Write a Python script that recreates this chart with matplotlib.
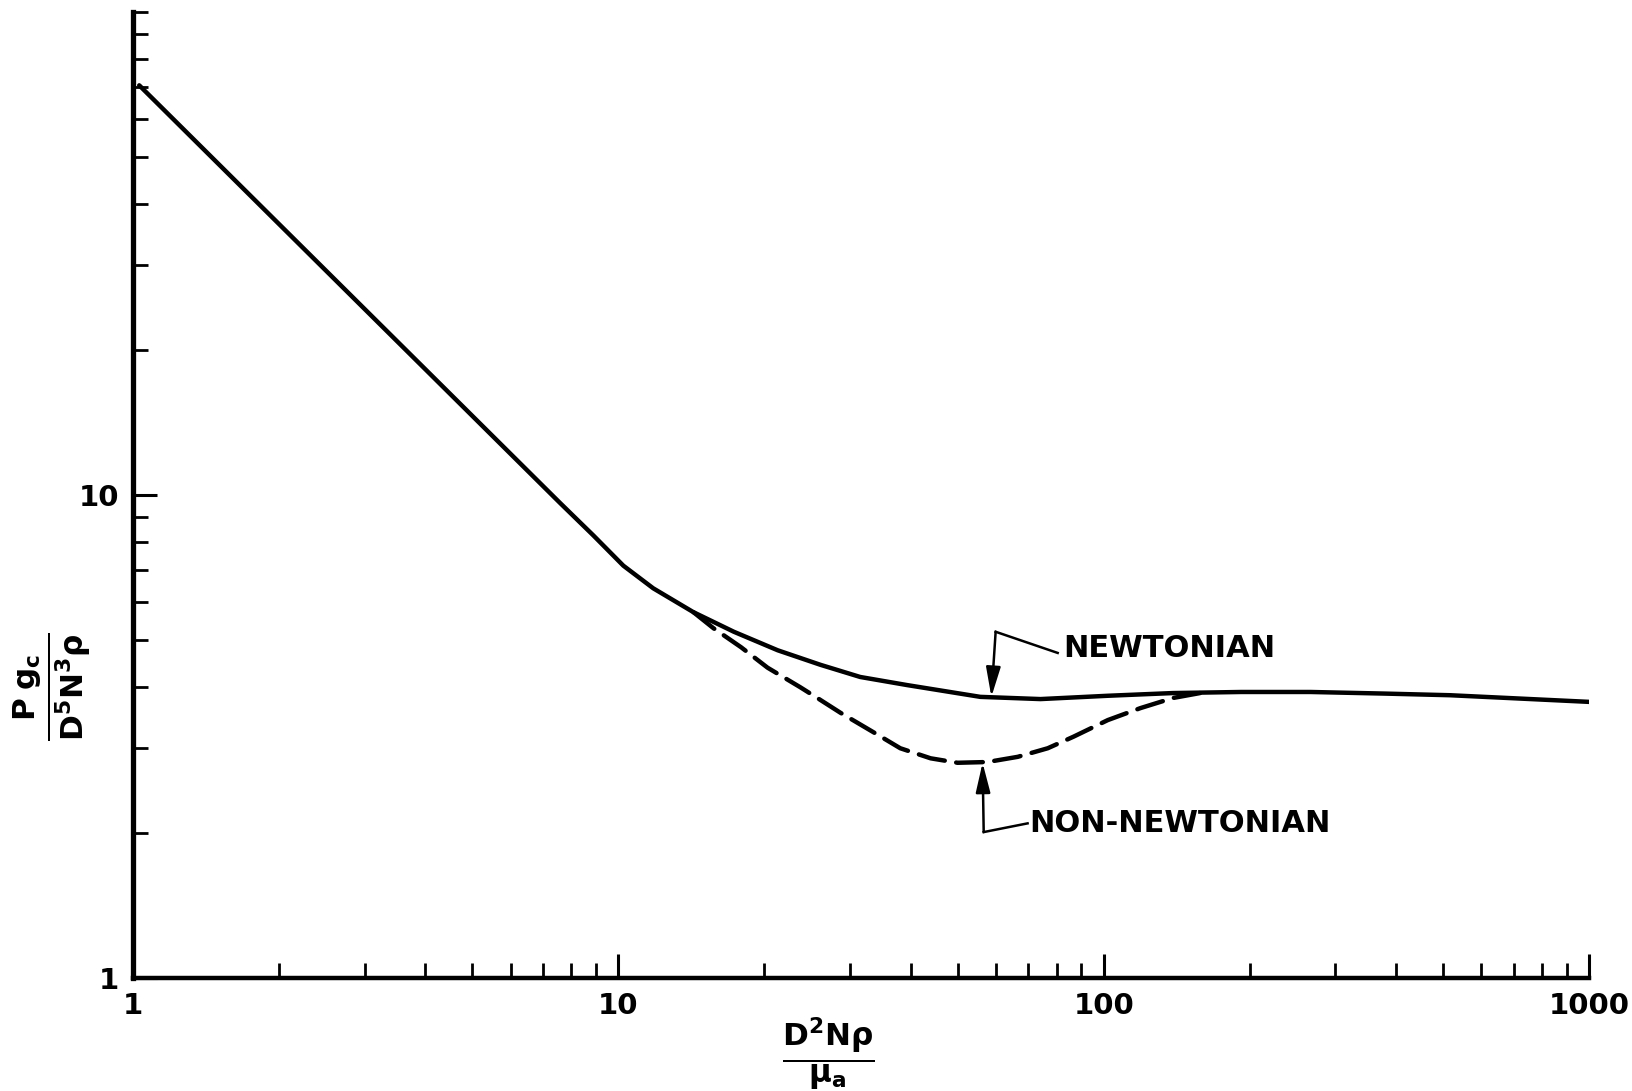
import matplotlib
matplotlib.use("Agg")
import matplotlib.pyplot as plt
from matplotlib.ticker import FixedLocator, NullFormatter

# ---- data ----
newt_x = [1.03, 7.59, 8.88, 10.24, 11.8, 14.28, 17.3, 21.3, 26.1, 31.5, 39.4, 55.7, 74.1, 102, 139, 192, 267, 380, 517, 1000]
newt_y = [70.5, 9.62, 8.25, 7.14, 6.41, 5.72, 5.21, 4.77, 4.45, 4.20, 4.04, 3.82, 3.78, 3.84, 3.89, 3.91, 3.91, 3.88, 3.85, 3.73]

nonnewt_x = [14.28, 15.7, 17.9, 20.3, 23.7, 25.7, 28.7, 33.5, 38.1, 44.0, 50.0, 57.6, 66.5, 76.7, 86.7, 102, 119, 139, 158]
nonnewt_y = [5.72, 5.30, 4.84, 4.39, 4.00, 3.80, 3.54, 3.23, 2.99, 2.85, 2.79, 2.80, 2.87, 2.99, 3.16, 3.42, 3.62, 3.80, 3.89]

x_major = [1, 10, 100, 1000]
x_major_labels = ["1", "10", "100", "1000"]
y_major = [1, 10]
y_major_labels = ["1", "10"]

# ---- figure ----
W, H = 1633, 1091
fig = plt.figure(figsize=(W / 100, H / 100), dpi=100)
ax = fig.add_axes([133 / W, 1 - 978 / H, (1589 - 133) / W, (978 - 12) / H])

ax.set_xscale("log")
ax.set_yscale("log")
ax.set_xlim(1, 1000)
ax.set_ylim(1, 100)

ax.plot(newt_x, newt_y, color="black", lw=3.2, solid_capstyle="round", solid_joinstyle="round")
ax.plot(nonnewt_x, nonnewt_y, color="black", lw=3.2, dashes=(6, 2.6),
        dash_capstyle="round", dash_joinstyle="round")

for s in ["top", "right"]:
    ax.spines[s].set_visible(False)
ax.spines["left"].set_linewidth(3.8)
ax.spines["bottom"].set_linewidth(3.2)

ax.xaxis.set_major_locator(FixedLocator(x_major))
ax.set_xticklabels(x_major_labels)
xminor = [m * d for d in (1, 10, 100) for m in range(2, 10)]
ax.xaxis.set_minor_locator(FixedLocator(xminor))
ax.xaxis.set_minor_formatter(NullFormatter())

ax.yaxis.set_major_locator(FixedLocator(y_major))
ax.set_yticklabels(y_major_labels)
yminor = [m * d for d in (1, 10) for m in range(2, 10)] + [100]
ax.yaxis.set_minor_locator(FixedLocator(yminor))
ax.yaxis.set_minor_formatter(NullFormatter())

ax.tick_params(which="major", direction="in", length=17, width=2.2, labelsize=21, pad=10)
ax.tick_params(which="minor", direction="in", length=11, width=2.0)
for lab in ax.get_xticklabels() + ax.get_yticklabels():
    lab.set_fontweight("bold")

# ---- annotations ----
arrow_kw = dict(arrowstyle="-|>,head_length=0.9,head_width=0.22",
                color="black", lw=1.8, mutation_scale=20, shrinkA=0, shrinkB=0)
# NEWTONIAN
ax.annotate("", xy=(58.7, 3.82), xytext=(59.9, 5.21), arrowprops=arrow_kw)
ax.plot([59.9, 80.4], [5.21, 4.71], color="black", lw=1.8)
ax.text(82.7, 4.82, "NEWTONIAN", fontsize=22, fontweight="bold", ha="left", va="center")

# NON-NEWTONIAN
ax.annotate("", xy=(56.3, 2.79), xytext=(56.6, 2.005), arrowprops=arrow_kw)
ax.plot([56.6, 69.7], [2.005, 2.09], color="black", lw=1.8)
ax.text(70.2, 2.09, "NON-NEWTONIAN", fontsize=22, fontweight="bold", ha="left", va="center")

# ---- axis labels ----
fig.text(52 / W, 1 - 687 / H, r"$\mathbf{\frac{P\;g_c}{D^5N^3\rho}}$", rotation=90,
         fontsize=32, ha="center", va="center")
fig.text(828 / W, 1 - 1054 / H, r"$\mathbf{\frac{D^2N\rho}{\mu_a}}$",
         fontsize=32, ha="center", va="center")

fig.savefig("out.png", dpi=100, facecolor="white")
